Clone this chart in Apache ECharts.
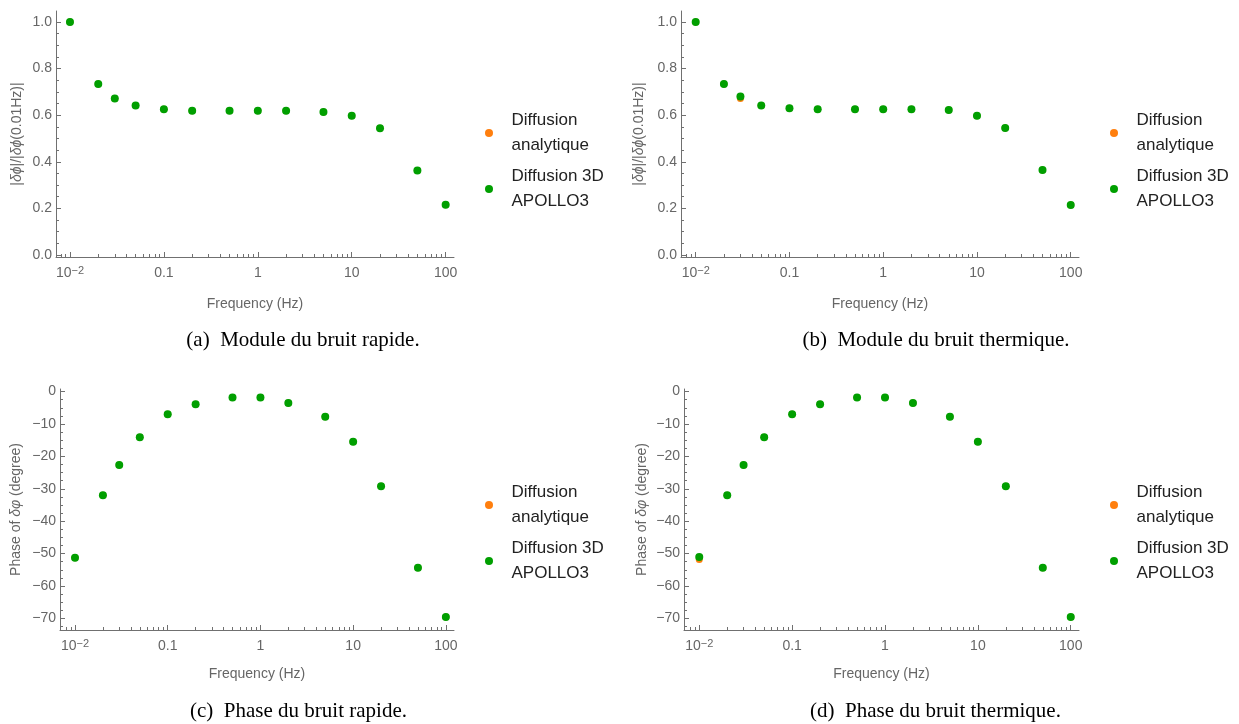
<!DOCTYPE html>
<html>
<head>
<meta charset="utf-8">
<script src="https://cdn.jsdelivr.net/npm/echarts@6/dist/echarts.min.js"></script>
<style>
html,body{margin:0;padding:0;background:#fff;}
#chart{width:1239px;height:724px;}
</style>
</head>
<body>
<div id="chart"></div>
<script>
// ---------------- data ----------------
const frequencies = [0.01, 0.02, 0.03, 0.05, 0.1, 0.2, 0.5, 1, 2, 5, 10, 20, 50, 100];

const moduleRapideAnalytique = [1.0, 0.734, 0.672, 0.641, 0.625, 0.619, 0.619, 0.619, 0.619, 0.614, 0.598, 0.544, 0.363, 0.216];
const moduleRapideApollo     = [1.0, 0.734, 0.672, 0.641, 0.625, 0.619, 0.619, 0.619, 0.619, 0.614, 0.598, 0.544, 0.363, 0.216];

const moduleThermiqueAnalytique = [1.0, 0.734, 0.671, 0.641, 0.630, 0.625, 0.625, 0.625, 0.625, 0.622, 0.597, 0.545, 0.365, 0.215];
const moduleThermiqueApollo     = [1.0, 0.734, 0.680, 0.641, 0.630, 0.625, 0.625, 0.625, 0.625, 0.622, 0.597, 0.545, 0.365, 0.215];

const phaseRapideAnalytique = [-51.3, -32.0, -22.7, -14.1, -7.0, -3.9, -1.85, -1.85, -3.5, -7.8, -15.5, -29.2, -54.4, -69.6];
const phaseRapideApollo     = [-51.3, -32.0, -22.7, -14.1, -7.0, -3.9, -1.85, -1.85, -3.5, -7.8, -15.5, -29.2, -54.4, -69.6];

const phaseThermiqueAnalytique = [-51.8, -32.0, -22.7, -14.1, -7.0, -3.9, -1.85, -1.85, -3.5, -7.8, -15.5, -29.2, -54.4, -69.6];
const phaseThermiqueApollo     = [-51.1, -32.0, -22.7, -14.1, -7.0, -3.9, -1.85, -1.85, -3.5, -7.8, -15.5, -29.2, -54.4, -69.6];

const seriesNames = ['Diffusion analytique', 'Diffusion 3D APOLLO3'];
const legendLabels = ['Diffusion\nanalytique', 'Diffusion 3D\nAPOLLO3'];

const xTickValues = [0.01, 0.1, 1, 10, 100];
const xTickLabels = ['{a|10}{b|\u22122}', '0.1', '1', '10', '100'];
const xMinorTickValues = [0.008, 0.009,
  0.02, 0.03, 0.04, 0.05, 0.06, 0.07, 0.08, 0.09,
  0.2, 0.3, 0.4, 0.5, 0.6, 0.7, 0.8, 0.9,
  2, 3, 4, 5, 6, 7, 8, 9,
  20, 30, 40, 50, 60, 70, 80, 90];

const moduleTickValues = [0, 0.2, 0.4, 0.6, 0.8, 1.0];
const moduleTickLabels = ['0.0', '0.2', '0.4', '0.6', '0.8', '1.0'];
const moduleMinorTickValues = [0.05, 0.1, 0.15, 0.25, 0.3, 0.35, 0.45, 0.5, 0.55, 0.65, 0.7, 0.75, 0.85, 0.9, 0.95];

const phaseTickValues = [-70, -60, -50, -40, -30, -20, -10, 0];
const phaseTickLabels = ['\u221270', '\u221260', '\u221250', '\u221240', '\u221230', '\u221220', '\u221210', '0'];
const phaseMinorTickValues = [-72.5, -67.5, -65, -62.5, -57.5, -55, -52.5, -47.5, -45, -42.5,
  -37.5, -35, -32.5, -27.5, -25, -22.5, -17.5, -15, -12.5, -7.5, -5, -2.5];

const captions = [
  '(a)  Module du bruit rapide.',
  '(b)  Module du bruit thermique.',
  '(c)  Phase du bruit rapide.',
  '(d)  Phase du bruit thermique.'
];

// ---------------- styling / layout ----------------
const SANS = '"Liberation Sans", Arial, sans-serif';
const SERIF = '"Liberation Serif", "Times New Roman", serif';
const AXIS = '#707070';
const TXT = '#666666';
const ORANGE = '#ff7f0e';
const GREEN = '#009f00';

const panels = [
  { grid: {left: 56, top: 11, width: 398, height: 246}, xMin: 0.0071, xMax: 122.7,
    kind: 'module', ana: moduleRapideAnalytique, apo: moduleRapideApollo,
    nameGap: 32, xNameGap: 40, legend: {left: 480, top: 103}, cap: {x: 303, y: 340} },
  { grid: {left: 681, top: 11, width: 398, height: 246}, xMin: 0.00697, xMax: 122.5,
    kind: 'module', ana: moduleThermiqueAnalytique, apo: moduleThermiqueApollo,
    nameGap: 35, xNameGap: 40, legend: {left: 1105, top: 103}, cap: {x: 936, y: 340} },
  { grid: {left: 60, top: 389, width: 394, height: 241}, xMin: 0.00689, xMax: 122.4,
    kind: 'phase', ana: phaseRapideAnalytique, apo: phaseRapideApollo,
    nameGap: 37, xNameGap: 37, legend: {left: 480, top: 475}, cap: {x: 298.5, y: 711} },
  { grid: {left: 684, top: 389, width: 395, height: 241}, xMin: 0.00685, xMax: 122.7,
    kind: 'phase', ana: phaseThermiqueAnalytique, apo: phaseThermiqueApollo,
    nameGap: 35, xNameGap: 37, legend: {left: 1105, top: 475}, cap: {x: 935.5, y: 711} }
];

function nearestLabel(values, labels, v) {
  let best = 0, bd = Infinity;
  for (let i = 0; i < values.length; i++) {
    const d = Math.abs(values[i] - v);
    if (d < bd) { bd = d; best = i; }
  }
  return labels[best];
}
function nearestLogLabel(v) {
  let best = 0, bd = Infinity;
  for (let i = 0; i < xTickValues.length; i++) {
    const d = Math.abs(Math.log10(xTickValues[i]) - Math.log10(v));
    if (d < bd) { bd = d; best = i; }
  }
  return xTickLabels[best];
}

const grids = [], xAxes = [], yAxes = [], series = [], legends = [], graphics = [];

panels.forEach((P, p) => {
  grids.push(Object.assign({containLabel: false, outerBoundsMode: 'none'}, P.grid));

  // major x axis
  xAxes.push({
    gridIndex: p, type: 'log', logBase: 10, min: P.xMin, max: P.xMax, position: 'bottom',
    name: 'Frequency (Hz)', nameLocation: 'middle', nameGap: P.xNameGap, nameMoveOverlap: false,
    nameTextStyle: {fontSize: 14, color: TXT, fontFamily: SANS},
    axisLine: {show: true, onZero: false, lineStyle: {color: AXIS, width: 1}},
    axisTick: {show: true, inside: true, length: 5, customValues: xTickValues, lineStyle: {color: AXIS, width: 1}},
    axisLabel: {
      show: true, customValues: xTickValues, margin: 8, fontSize: 14, lineHeight: 16,
      color: TXT, fontFamily: SANS,
      formatter: v => nearestLogLabel(v),
      rich: {
        a: {fontSize: 14, lineHeight: 16, color: TXT, fontFamily: SANS},
        b: {fontSize: 11, lineHeight: 11, verticalAlign: 'top', color: TXT, fontFamily: SANS}
      }
    },
    splitLine: {show: false}, minorTick: {show: false}, minorSplitLine: {show: false}
  });
  // minor x ticks
  xAxes.push({
    gridIndex: p, type: 'log', logBase: 10, min: P.xMin, max: P.xMax, position: 'bottom',
    axisLine: {show: false, onZero: false},
    axisTick: {show: true, inside: true, length: 3, customValues: xMinorTickValues, lineStyle: {color: AXIS, width: 1}},
    axisLabel: {show: false}, splitLine: {show: false}
  });

  const isMod = P.kind === 'module';
  const yMin = isMod ? -0.0086 : -73.6;
  const yMax = isMod ? 1.047 : 0.8;
  const tv = isMod ? moduleTickValues : phaseTickValues;
  const tl = isMod ? moduleTickLabels : phaseTickLabels;
  const mv = isMod ? moduleMinorTickValues : phaseMinorTickValues;
  const yName = isMod ? '|{i|\u03b4\u03d5}|/|{i|\u03b4\u03d5}(0.01Hz)|' : 'Phase of {i|\u03b4\u03c6} (degree)';

  yAxes.push({
    gridIndex: p, type: 'value', min: yMin, max: yMax, position: 'left',
    name: yName, nameLocation: 'middle', nameGap: P.nameGap, nameMoveOverlap: false,
    nameTextStyle: {fontSize: 14, color: TXT, fontFamily: SANS,
      rich: {i: {fontStyle: 'italic', fontSize: 14, color: TXT, fontFamily: SANS}}},
    axisLine: {show: true, onZero: false, lineStyle: {color: AXIS, width: 1}},
    axisTick: {show: true, inside: true, length: 5, customValues: tv, lineStyle: {color: AXIS, width: 1}},
    axisLabel: {show: true, customValues: tv, margin: 4, fontSize: 14, color: TXT, fontFamily: SANS,
      formatter: v => nearestLabel(tv, tl, v)},
    splitLine: {show: false}, minorTick: {show: false}
  });
  yAxes.push({
    gridIndex: p, type: 'value', min: yMin, max: yMax, position: 'left',
    axisLine: {show: false, onZero: false},
    axisTick: {show: true, inside: true, length: 3, customValues: mv, lineStyle: {color: AXIS, width: 1}},
    axisLabel: {show: false}, splitLine: {show: false}
  });

  series.push({
    name: seriesNames[0], type: 'scatter', xAxisIndex: 2 * p, yAxisIndex: 2 * p,
    symbol: 'circle', symbolSize: 7, itemStyle: {color: ORANGE, opacity: 1},
    data: frequencies.map((f, i) => [f, P.ana[i]]), z: 2
  });
  series.push({
    name: seriesNames[1], type: 'scatter', xAxisIndex: 2 * p, yAxisIndex: 2 * p,
    symbol: 'circle', symbolSize: 8, itemStyle: {color: GREEN, opacity: 1},
    data: frequencies.map((f, i) => [f, P.apo[i]]), z: 3
  });

  legends.push({
    orient: 'vertical', left: P.legend.left, top: P.legend.top,
    data: seriesNames, icon: 'circle', itemWidth: 35, itemHeight: 8, itemGap: 6,
    selectedMode: false,
    formatter: name => legendLabels[seriesNames.indexOf(name)],
    textStyle: {fontSize: 17, lineHeight: 25, color: '#222', fontFamily: SANS}
  });

  graphics.push({
    type: 'text', x: P.cap.x, y: P.cap.y,
    style: {text: captions[p], fill: '#000', font: '21px ' + SERIF,
      align: 'center', verticalAlign: 'middle', textAlign: 'center', textVerticalAlign: 'middle'}
  });
});

const chart = echarts.init(document.getElementById('chart'), null, {renderer: 'canvas'});
chart.setOption({
  animation: false,
  backgroundColor: '#ffffff',
  grid: grids,
  xAxis: xAxes,
  yAxis: yAxes,
  legend: legends,
  series: series,
  graphic: graphics,
  tooltip: {show: false}
});
</script>
</body>
</html>
